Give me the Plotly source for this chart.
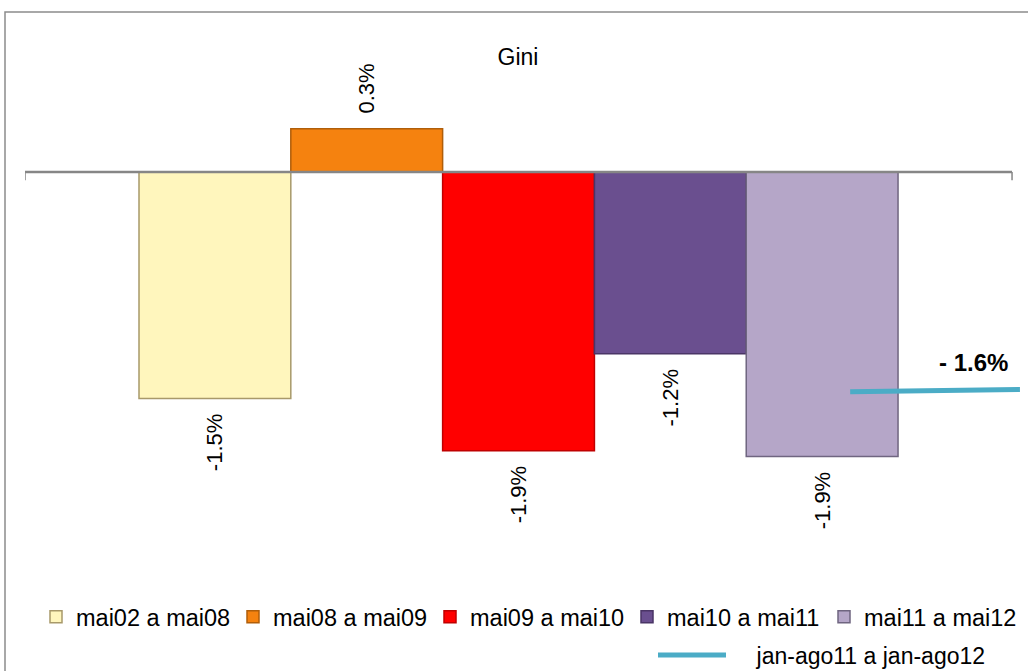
import plotly.graph_objects as go

# ---- data ----
CATEGORIES = ["Gini"]
SERIES = ["mai02 a mai08", "mai08 a mai09", "mai09 a mai10", "mai10 a mai11", "mai11 a mai12"]
VALUES = [-1.52, 0.29, -1.87, -1.22, -1.91]
LINE_NAME = "jan-ago11 a jan-ago12"
LINE_X = [0.336, 0.508]
LINE_Y = [-1.475, -1.46]
LINE_LABEL = "- 1.6%"
TITLE = "Gini"

# ---- style ----
FILLS = ["#FFF6BD", "#F5820F", "#FF0000", "#6A4F8F", "#B5A6C8"]
EDGES = ["#A8996A", "#B05E0A", "#C00000", "#4A3566", "#6F6580"]
FONT = "Liberation Sans"
W, H = 1028, 671
ML, MR, MT, MB = 25, 5, 20, 5
PXU = 149.0           # pixels per 1 percentage point
ZERO_PX = 172.0       # pixel row of zero line
XR = [-0.5, 0.5111]
ph = H - MT - MB
pw = W - ML - MR
YTOP = (ZERO_PX - MT) / PXU
YR = [YTOP - ph / PXU, YTOP]


def px_x(p):
    return (p - ML) / pw


def px_y(p):
    return (H - MB - p) / ph


fig = go.Figure()
for name, val, fc, ec in zip(SERIES, VALUES, FILLS, EDGES):
    pad = "\u00a0\u00a0"
    tmpl = (pad + "%{y:.1f}%") if val >= 0 else ("%{y:.1f}%" + pad)
    fig.add_trace(go.Bar(
        x=CATEGORIES, y=[val], name=name,
        marker=dict(color=fc, line=dict(color=ec, width=1.5)),
        texttemplate=tmpl, textposition="outside", textangle=-90,
        textfont=dict(family=FONT, size=22, color="#000000"),
        cliponaxis=False, constraintext="none", hoverinfo="skip",
    ))

fig.add_trace(go.Scatter(
    x=LINE_X, y=LINE_Y, xaxis="x2", mode="lines",
    name="\u00a0\u00a0\u00a0\u00a0" + LINE_NAME,
    line=dict(color="#4BACC6", width=5), legend="legend2", hoverinfo="skip",
))

fig.add_annotation(
    x=LINE_X[-1], y=LINE_Y[-1], xref="x2", yref="y", text="<b>" + LINE_LABEL + "</b>",
    showarrow=False, xanchor="right", yanchor="bottom", xshift=-10, yshift=12,
    font=dict(family=FONT, size=24, color="#000000"),
)

axis_col = "#868686"
shapes = [
    dict(type="line", xref="x", yref="y", x0=-0.5, x1=0.5, y0=0, y1=0,
         line=dict(color=axis_col, width=2.5), layer="above"),
    dict(type="line", xref="x", yref="y", x0=-0.5, x1=-0.5, y0=0, y1=-0.055,
         line=dict(color=axis_col, width=1.5), layer="above"),
    dict(type="line", xref="x", yref="y", x0=0.5, x1=0.5, y0=0, y1=-0.055,
         line=dict(color=axis_col, width=1.5), layer="above"),
    dict(type="rect", xref="paper", yref="paper",
         x0=px_x(5), x1=1.1, y0=-0.2, y1=px_y(12),
         line=dict(color="#8C8C8C", width=1.5), fillcolor="rgba(0,0,0,0)", layer="below"),
]

fig.update_layout(
    width=W, height=H,
    margin=dict(l=ML, r=MR, t=MT, b=MB, pad=0, autoexpand=False),
    paper_bgcolor="white", plot_bgcolor="rgba(0,0,0,0)",
    barmode="group", bargap=0.231, bargroupgap=0,
    font=dict(family=FONT, color="#000000"),
    title=dict(text=TITLE, x=518 / W, xref="container", xanchor="center",
               y=1 - 57 / H, yref="container", yanchor="middle",
               font=dict(family=FONT, size=23, color="#000000")),
    xaxis=dict(type="category", range=XR, visible=False, showgrid=False, zeroline=False),
    xaxis2=dict(overlaying="x", type="linear", range=XR, visible=False,
                showgrid=False, zeroline=False),
    yaxis=dict(range=YR, visible=False, showgrid=False, zeroline=False),
    showlegend=True,
    legend=dict(orientation="h", x=px_x(36), xanchor="left", y=px_y(617), yanchor="middle",
                entrywidth=152, entrywidthmode="pixels", traceorder="normal",
                font=dict(family=FONT, size=23.5, color="#000000"),
                bgcolor="rgba(0,0,0,0)"),
    legend2=dict(orientation="h", x=px_x(653), xanchor="left", y=px_y(655), yanchor="middle",
                 itemwidth=68,
                 font=dict(family=FONT, size=23, color="#000000"),
                 bgcolor="rgba(0,0,0,0)"),
    shapes=shapes,
)

fig.write_html(
    "out.html",
    config={"displayModeBar": False},
    post_script="document.body.style.margin='0';document.body.style.overflow='hidden';",
)
